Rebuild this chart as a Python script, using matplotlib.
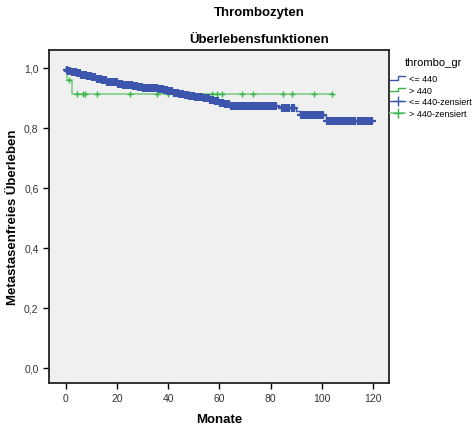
import matplotlib
matplotlib.use("Agg")
import matplotlib.pyplot as plt
from matplotlib.legend_handler import HandlerBase
from matplotlib.lines import Line2D

plt.rcParams["font.family"] = ["Liberation Sans", "DejaVu Sans"]

# ── DATA ───────────────────────────────────────────────────────────────────────
# group "<= 440": step curve (time in months, survival after step)
low_times = [0, 1, 2, 4, 6, 8, 10, 12, 14, 16, 18, 20, 22, 24, 26, 28, 30, 33,
             36, 38, 40, 42, 44, 46, 48, 50, 52, 54, 56, 58, 60, 62, 64, 66,
             84, 90, 91.5, 101.5]
low_surv = [0.992, 0.989, 0.986, 0.982, 0.978, 0.975, 0.970, 0.964, 0.959,
            0.955, 0.952, 0.948, 0.945, 0.942, 0.940, 0.937, 0.935, 0.932,
            0.930, 0.926, 0.922, 0.918, 0.914, 0.911, 0.908, 0.905, 0.902,
            0.899, 0.895, 0.890, 0.884, 0.879, 0.875, 0.873, 0.867, 0.856,
            0.842, 0.825]
low_end = 119.6
low_censored = [0.3, 0.6, 1.0, 1.4, 1.8, 2.2, 2.6, 3.0, 3.5, 3.9, 4.3, 4.8,
                5.2, 5.6, 6.1, 6.5, 7.0, 7.4, 7.9, 8.3, 8.8, 9.2, 9.7, 10.1,
                10.6, 11.0, 11.5, 12.0, 12.4, 12.9, 13.3, 13.8, 14.3, 14.7,
                15.2, 15.7, 16.1, 16.6, 17.1, 17.5, 18.0, 18.5, 19.0, 19.4,
                19.9, 20.4, 20.9, 21.3, 21.8, 22.3, 22.8, 23.3, 23.7, 24.2,
                24.7, 25.2, 25.7, 26.2, 26.7, 27.2, 27.7, 28.2, 28.7, 29.2,
                29.7, 30.2, 30.7, 31.2, 31.7, 32.2, 32.7, 33.2, 33.7, 34.2,
                34.7, 35.2, 35.8, 36.3, 36.8, 37.3, 37.8, 38.4, 38.9, 39.4,
                40.0, 40.5, 41.0, 41.6, 42.1, 42.6, 43.2, 43.7, 44.3, 44.8,
                45.4, 45.9, 46.5, 47.0, 47.6, 48.2, 48.7, 49.3, 49.9, 50.4,
                51.0, 51.6, 52.2, 52.8, 53.4, 54.0, 54.6, 55.2, 55.8, 56.4,
                57.0, 57.6, 58.2, 58.8, 59.5, 60.1, 60.7, 61.4, 62.0, 62.6,
                63.3, 63.9, 64.6, 65.2, 65.9, 66.6, 67.2, 67.9, 68.6, 69.3,
                70.0, 70.7, 71.4, 72.1, 72.8, 73.5, 74.2, 74.9, 75.6, 76.3,
                77.0, 77.7, 78.5, 79.2, 80.0, 80.7, 81.5, 82.2, 84.3, 85.0,
                85.8, 86.6, 87.4, 88.2, 89.0, 91.8, 92.6, 93.4, 94.2, 95.0,
                95.8, 96.6, 97.4, 98.2, 99.0, 99.8, 100.6, 102.0, 102.8,
                103.6, 104.4, 105.2, 106.0, 106.8, 107.6, 108.4, 109.2, 110.0,
                110.8, 111.6, 112.4, 113.2, 114.0, 114.8, 115.6, 116.4, 117.2,
                118.0, 118.8, 119.6]

# group "> 440"
high_times = [0, 0.5, 2.2]
high_surv = [1.0, 0.959, 0.912]
high_end = 104.1
high_censored = [1.3, 4.4, 6.8, 7.4, 12.2, 25.0, 35.7, 39.8, 48.5, 57.0, 58.9,
                 61.0, 68.7, 73.2, 84.7, 88.2, 97.1, 104.1]

x_ticks = [0, 20, 40, 60, 80, 100, 120]
y_ticks = [0.0, 0.2, 0.4, 0.6, 0.8, 1.0]

BLUE = "#3d56ad"
GREEN = "#3cb44c"
GREEN_LIGHT = "#7dcf86"


def surv_at(times, surv, t):
    s = surv[0]
    for ti, si in zip(times, surv):
        if ti <= t:
            s = si
    return s


class StepHandler(HandlerBase):
    def __init__(self, color):
        super().__init__()
        self.color = color

    def create_artists(self, legend, orig_handle, xd, yd, w, h, fontsize, trans):
        xs = [xd, xd + w * 0.5, xd + w * 0.5, xd + w]
        ys = [yd + h * 0.2, yd + h * 0.2, yd + h * 0.8, yd + h * 0.8]
        ln = Line2D(xs, ys, color=self.color, lw=1.0, transform=trans)
        return [ln]


# ── FIGURE ─────────────────────────────────────────────────────────────────────
fig = plt.figure(figsize=(4.76, 4.27), dpi=100)
ax = fig.add_axes([49 / 476, 1 - 384 / 427, 340 / 476, 333 / 427])
ax.set_facecolor("#f0f0f0")

# step curves
ax.step(low_times + [low_end], low_surv + [low_surv[-1]], where="post",
        color=BLUE, lw=1.0, zorder=3)
ax.step(high_times + [high_end], high_surv + [high_surv[-1]], where="post",
        color=GREEN_LIGHT, lw=1.2, zorder=2)

# censor marks
ax.plot(low_censored, [surv_at(low_times, low_surv, t) for t in low_censored],
        ls="none", marker="+", ms=5.5, mew=1.6, color=BLUE, zorder=4)
ax.plot(high_censored, [surv_at(high_times, high_surv, t) for t in high_censored],
        ls="none", marker="+", ms=5, mew=1.0, color=GREEN, zorder=3)

ax.set_xlim(-6.6, 126.3)
ax.set_ylim(-0.05, 1.06)
ax.set_xticks(x_ticks)
ax.set_yticks(y_ticks)
ax.set_yticklabels([f"{v:.1f}".replace(".", ",") for v in y_ticks])
ax.tick_params(direction="out", length=4, width=1, labelsize=7.5,
               colors="black", labelcolor="#333333")
for sp in ax.spines.values():
    sp.set_linewidth(1.3)
    sp.set_color("#222222")

ax.set_xlabel("Monate", fontsize=9.5, fontweight="bold", labelpad=7)
ax.set_ylabel("Metastasenfreies Überleben", fontsize=9.5, fontweight="bold",
              labelpad=4)

fig.text(259 / 476, 1 - 13 / 427, "Thrombozyten", ha="center", va="center",
         fontsize=9.5, fontweight="bold")
fig.text(259 / 476, 1 - 40 / 427, "Überlebensfunktionen", ha="center",
         va="center", fontsize=9.5, fontweight="bold")

# ── LEGEND ─────────────────────────────────────────────────────────────────────
fig.text(405 / 476, 1 - 63 / 427, "thrombo_gr", ha="left", va="center",
         fontsize=8)
h_low = Line2D([], [], color=BLUE)
h_high = Line2D([], [], color=GREEN)
h_low_c = Line2D([], [], color=BLUE, marker="+", ms=7, lw=1)
h_high_c = Line2D([], [], color=GREEN_LIGHT, marker="+", mec=GREEN, ms=7, lw=1.2)
leg = fig.legend(
    [h_low, h_high, h_low_c, h_high_c],
    ["<= 440", "> 440", "<= 440-zensiert", "> 440-zensiert"],
    handler_map={h_low: StepHandler(BLUE), h_high: StepHandler(GREEN)},
    loc="upper left", bbox_to_anchor=(390 / 476, 1 - 75 / 427),
    frameon=False, fontsize=6.5, handlelength=1.7, handletextpad=0.35,
    labelspacing=0.3, borderaxespad=0, borderpad=0,
)

fig.savefig("out.png", dpi=100)
